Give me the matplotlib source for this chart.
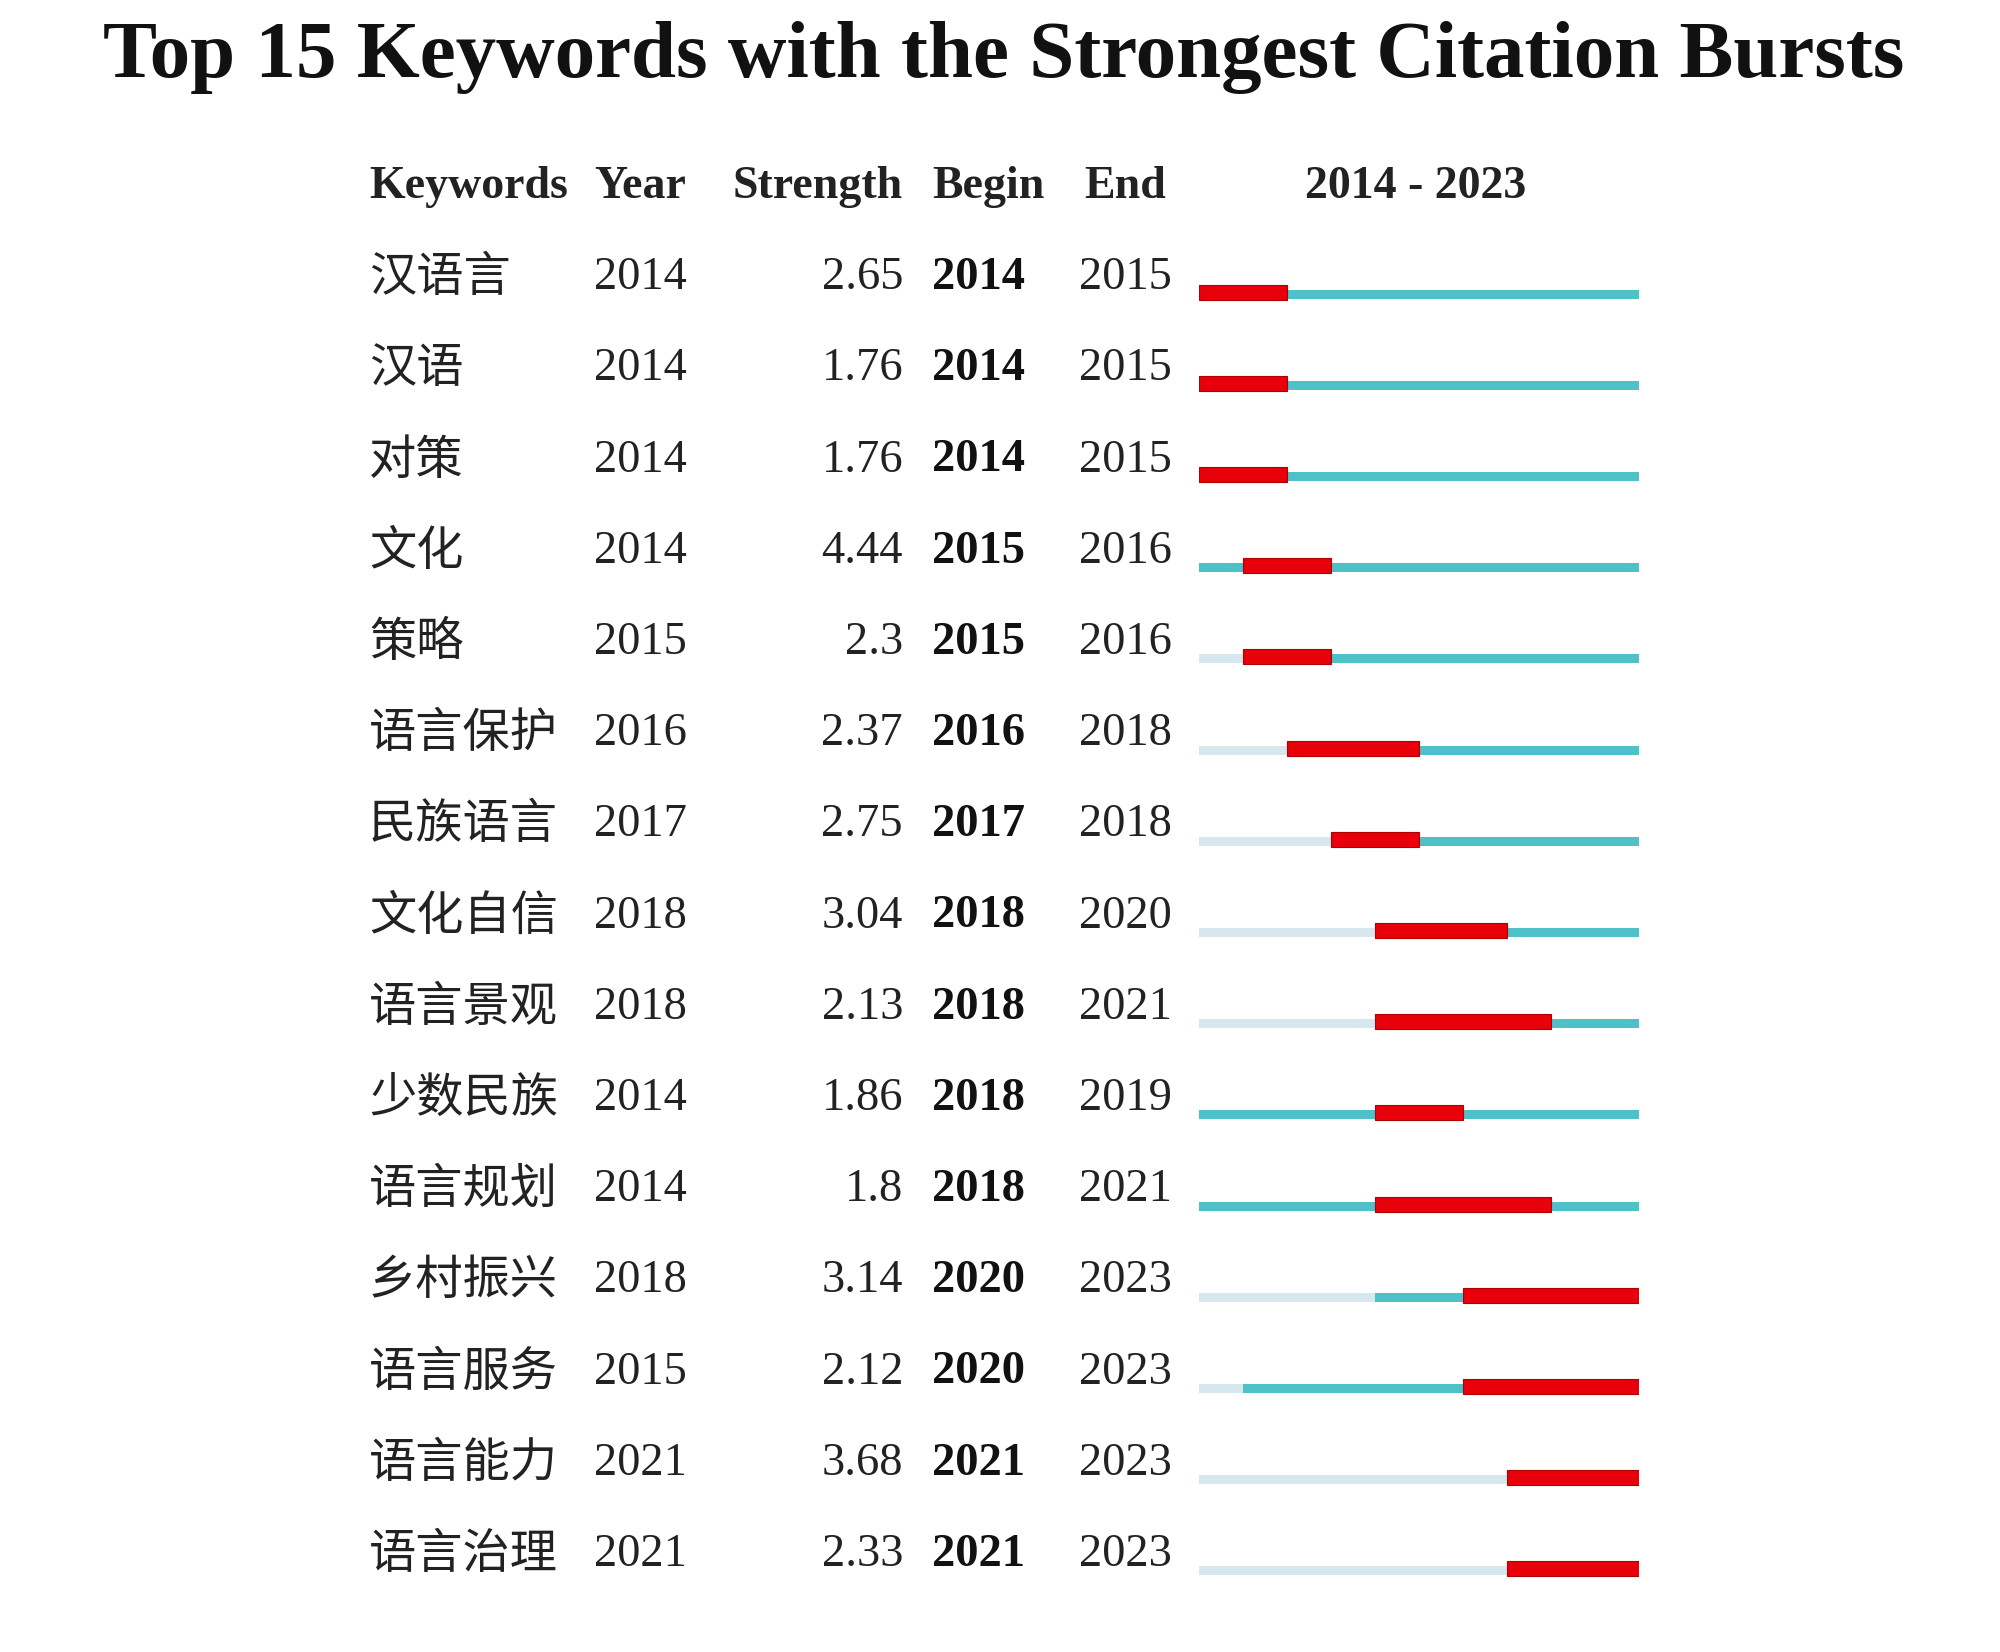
import matplotlib
matplotlib.use("Agg")
import matplotlib.pyplot as plt

title = "Top 15 Keywords with the Strongest Citation Bursts"
headers = ["Keywords", "Year", "Strength", "Begin", "End"]
range_label = "2014 - 2023"
first_year, last_year = 2014, 2023

keywords = ["汉语言", "汉语", "对策", "文化", "策略", "语言保护", "民族语言", "文化自信",
            "语言景观", "少数民族", "语言规划", "乡村振兴", "语言服务", "语言能力", "语言治理"]
years = [2014, 2014, 2014, 2014, 2015, 2016, 2017, 2018, 2018, 2014, 2014, 2018, 2015, 2021, 2021]
strengths = ["2.65", "1.76", "1.76", "4.44", "2.3", "2.37", "2.75", "3.04", "2.13", "1.86",
             "1.8", "3.14", "2.12", "3.68", "2.33"]
begins = [2014, 2014, 2014, 2015, 2015, 2016, 2017, 2018, 2018, 2018, 2018, 2020, 2020, 2021, 2021]
ends = [2015, 2015, 2015, 2016, 2016, 2018, 2018, 2020, 2021, 2019, 2021, 2023, 2023, 2023, 2023]

RED = "#E8000A"
TEAL = "#4DC0C8"
LIGHT = "#D6E8EE"

W, H = 2000, 1652
fig = plt.figure(figsize=(W / 100, H / 100), dpi=100)
fig.patch.set_facecolor("white")
ax = fig.add_axes([0, 0, 1, 1])
ax.set_xlim(0, W)
ax.set_ylim(H, 0)
ax.axis("off")

serif = "Liberation Serif"
cjk = ["Noto Sans CJK SC", "DejaVu Sans"]

ax.text(1004, 58, title, ha="center", va="center", fontsize=58.3, fontweight="bold",
        family=serif, color="#111111")

hy = 187
hs = 33
ax.text(369, hy, headers[0], ha="left", va="center", fontsize=hs, fontweight="bold", family=serif, color="#222")
ax.text(594, hy, headers[1], ha="left", va="center", fontsize=hs, fontweight="bold", family=serif, color="#222")
ax.text(903, hy, headers[2], ha="right", va="center", fontsize=hs, fontweight="bold", family=serif, color="#222")
ax.text(932, hy, headers[3], ha="left", va="center", fontsize=hs, fontweight="bold", family=serif, color="#222")
ax.text(1084, hy, headers[4], ha="left", va="center", fontsize=hs, fontweight="bold", family=serif, color="#222")
ax.text(1416, hy, range_label, ha="center", va="center", fontsize=hs, fontweight="bold", family=serif, color="#222")

y0, dy = 278, 91.2
fs = 33.5
row_y = [y0 + i * dy for i in range(len(keywords))]
for i, y in enumerate(row_y):
    ax.text(369, y, keywords[i], ha="left", va="center", fontsize=34, fontweight="light",
            family=cjk, color="#222")
    ax.text(594, y, str(years[i]), ha="left", va="center", fontsize=fs, family=serif, color="#222")
    ax.text(903, y, strengths[i], ha="right", va="center", fontsize=fs, family=serif, color="#222")
    ax.text(932, y, str(begins[i]), ha="left", va="center", fontsize=fs, fontweight="bold", family=serif, color="#111")
    ax.text(1079, y, str(ends[i]), ha="left", va="center", fontsize=fs, family=serif, color="#222")

# bar panel using year scale
bx0, bx1 = 1199, 1639
bax = fig.add_axes([bx0 / W, 0, (bx1 - bx0) / W, 1])
bax.set_xlim(first_year, last_year + 1)
bax.set_ylim(H, 0)
bax.axis("off")
for i, y in enumerate(row_y):
    yl = y + 16
    yr = y + 14
    if years[i] > first_year:
        bax.barh(yl, years[i] - first_year, left=first_year, height=9, color=LIGHT, linewidth=0)
    if begins[i] > years[i]:
        bax.barh(yl, begins[i] - years[i], left=years[i], height=9, color=TEAL, linewidth=0)
    if ends[i] < last_year:
        bax.barh(yl, last_year + 1 - (ends[i] + 1), left=ends[i] + 1, height=9, color=TEAL, linewidth=0)
    bax.barh(yr, ends[i] + 1 - begins[i], left=begins[i], height=15, color=RED,
             edgecolor="#B00000", linewidth=0.8)

fig.savefig("out.png", dpi=100, facecolor="white")
